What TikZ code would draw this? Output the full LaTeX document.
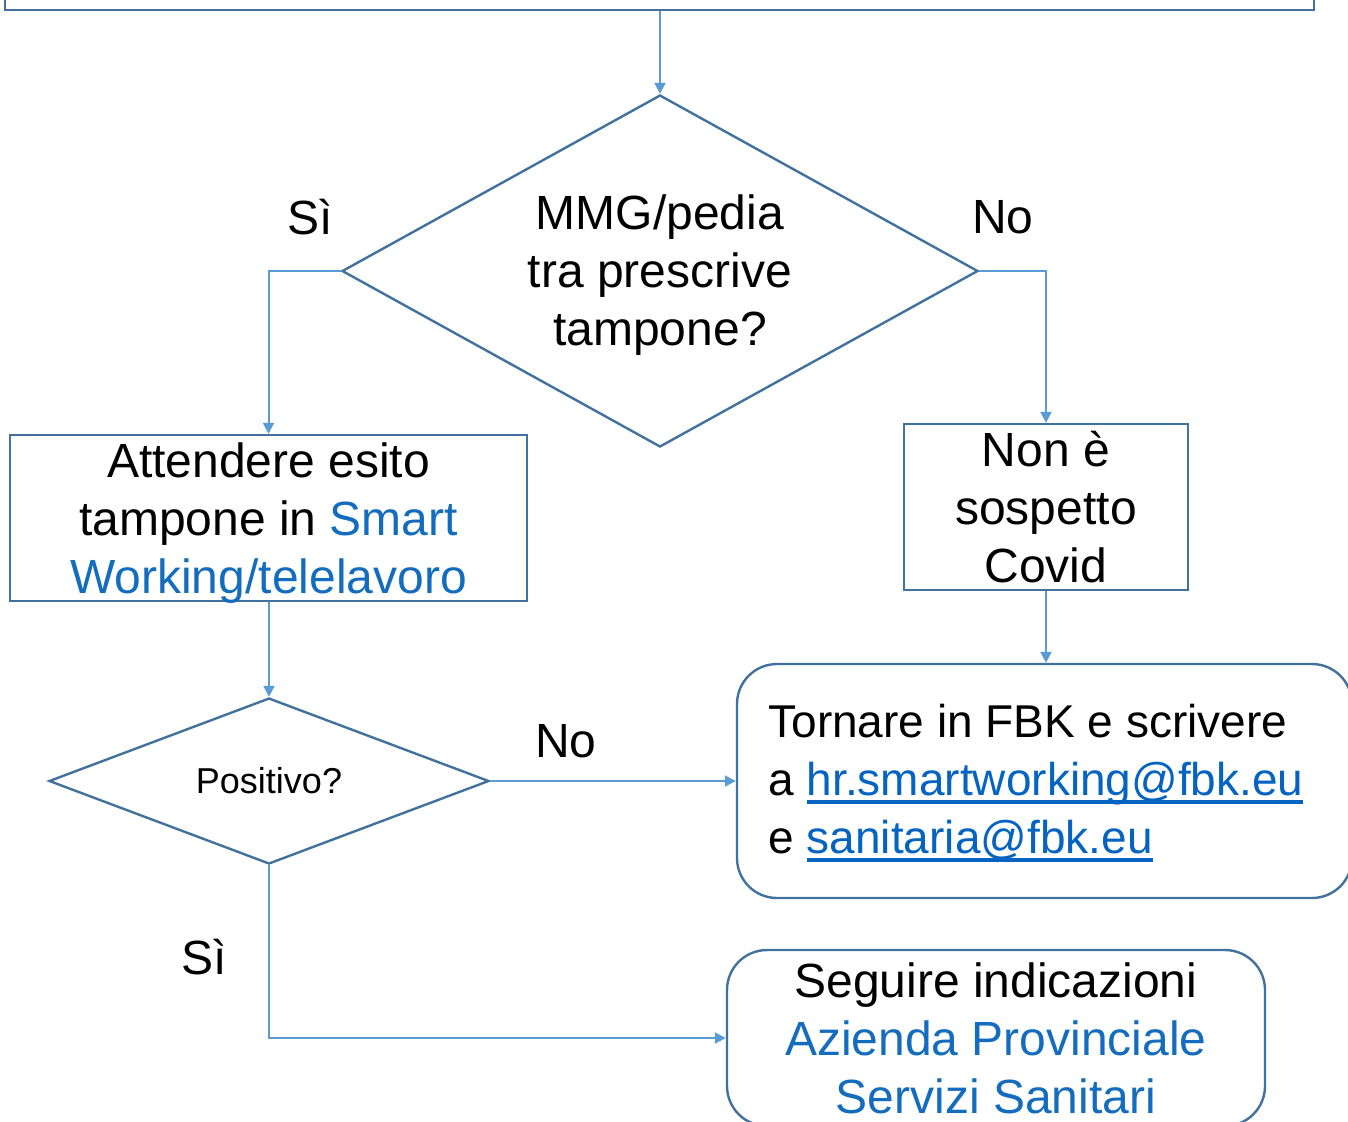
\documentclass[tikz,border=0pt]{standalone}
\usepackage{fontspec}
\setmainfont{Liberation Sans}
\usetikzlibrary{shapes.geometric,arrows.meta}
\definecolor{boxline}{RGB}{65,113,156}
\definecolor{arrowcol}{RGB}{91,155,213}
\definecolor{tblue}{RGB}{20,108,190}
\definecolor{linkblue}{RGB}{5,99,193}
\newcommand\mylink[1]{\textcolor{linkblue}{\setbox0\hbox{#1}\rlap{\rule[-4pt]{\wd0}{2pt}}\box0}}
\begin{document}
\begin{tikzpicture}[x=0.5pt,y=-0.5pt,
  every node/.style={font=\fontsize{24}{29}\selectfont, text=black},
  shapebox/.style={draw=boxline, line width=1.2pt, inner sep=0pt, align=center},
  rbox/.style={shapebox, rounded corners=20pt},
  dec/.style={shapebox, diamond},
  conn/.style={draw=arrowcol, line width=1pt, -{Triangle[length=5.5pt,width=5.5pt]}},
  lbl/.style={inner sep=0pt, align=center}
]
\useasboundingbox (0,0) rectangle (1348,1121);
\clip (0,0) rectangle (1348,1121);

\node[shapebox, minimum width=654.5pt, minimum height=35pt] (top) at (659.5,-25) {};

\node[dec, minimum width=318pt, minimum height=176pt] (d1) at (660,271) {};
\node[lbl] (d1text) at (660,275) {MMG/pedia\\tra prescrive\\tampone?};

\node[lbl] (si1) at (310,217) {Sì};
\node[lbl] (no1) at (1003,217) {No};

\node[shapebox, minimum width=258.5pt, minimum height=83pt] (att) at (268.5,518) {};
\node[lbl] (atttext) at (268.5,523)
  {Attendere esito\\tampone in \textcolor{tblue}{Smart}\\\textcolor{tblue}{Working/telelavoro}};

\node[shapebox, minimum width=142pt, minimum height=83pt] (nonc) at (1046,507)
  {Non è\\sospetto\\Covid};

\node[rbox, minimum width=307.5pt, minimum height=117pt] (fbk) at (1044.5,781) {};
\node[lbl, anchor=west, align=left, font=\fontsize{23}{29}\selectfont] (fbktext) at (768,783)
  {Tornare in FBK e scrivere\\a \mylink{hr.smartworking@fbk.eu}\\e \mylink{sanitaria@fbk.eu}};

\node[dec, minimum width=220pt, minimum height=83pt, aspect=2.6,
  font=\fontsize{18}{22}\selectfont] (d2) at (269,781) {Positivo?};

\node[lbl] (no2) at (566,741) {No};
\node[lbl] (si2) at (204,957) {Sì};

\node[rbox, minimum width=269pt, minimum height=88pt] (apss) at (996,1038)
  {Seguire indicazioni\\\textcolor{tblue}{Azienda Provinciale}\\\textcolor{tblue}{Servizi Sanitari}};

\draw[conn] (d1.north |- top.south) -- (d1.north);
\draw[conn] (d1.west) -| (att.north);
\draw[conn] (d1.east) -| (nonc.north);
\draw[conn] (nonc.south) -- (nonc.south |- fbk.north);
\draw[conn] (att.south -| d2.north) -- (d2.north);
\draw[conn] (d2.east) -- (d2.east -| fbk.west);
\draw[conn] (d2.south) |- (apss.west);
\end{tikzpicture}
\end{document}
